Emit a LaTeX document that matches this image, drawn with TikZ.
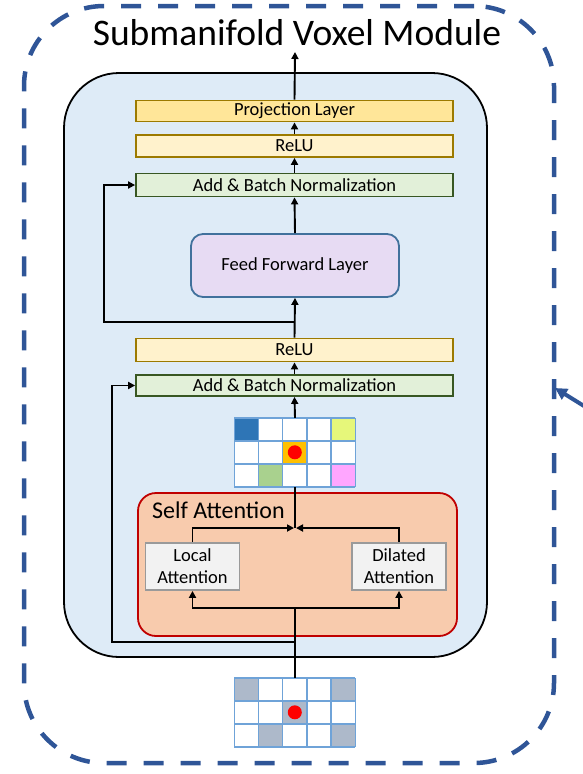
\documentclass[tikz,border=0pt]{standalone}
\usepackage{fontspec}
\setmainfont{Carlito}
\usetikzlibrary{arrows.meta}
\definecolor{dashblue}{HTML}{2F5597}
\definecolor{encfill}{HTML}{DEEBF7}
\definecolor{projfill}{HTML}{FFE699}
\definecolor{relufill}{HTML}{FFF2CC}
\definecolor{goldline}{HTML}{9C7A00}
\definecolor{abnfill}{HTML}{E2F0D9}
\definecolor{abnline}{HTML}{385723}
\definecolor{fflfill}{HTML}{E7DBF3}
\definecolor{fflline}{HTML}{41719C}
\definecolor{safill}{HTML}{F8CBAD}
\definecolor{saline}{HTML}{C00000}
\definecolor{attfill}{HTML}{F2F2F2}
\definecolor{attline}{HTML}{9A9A9A}
\definecolor{gridline}{HTML}{6FA3D8}
\definecolor{cblue}{HTML}{2E75B6}
\definecolor{cyellow}{HTML}{E6F77A}
\definecolor{corange}{HTML}{FFC000}
\definecolor{cgreen}{HTML}{A9D18E}
\definecolor{cpink}{HTML}{FFA6FF}
\definecolor{cgray}{HTML}{ADB9CA}
\begin{document}
\begin{tikzpicture}[x=1pt,y=-1pt,
  boxfont/.style={font=\fontsize{18.5}{21}\selectfont},
  layer/.style={draw, line width=1.8pt, minimum width=317pt, inner sep=0pt, boxfont},
  projbox/.style={layer, fill=projfill, draw=goldline},
  relubox/.style={layer, fill=relufill, draw=goldline},
  abnbox/.style={layer, fill=abnfill, draw=abnline},
  attbox/.style={draw=attline, fill=attfill, line width=1.8pt, minimum width=94pt, minimum height=47pt, inner sep=0pt, align=center, font=\fontsize{18.5}{22}\selectfont},
  gridbox/.style={minimum width=121pt, minimum height=69pt, inner sep=0pt},
  gridlines/.style={gridline, line width=1.5pt},
  conn/.style={line width=1.9pt, black},
  arr/.style={conn, -{Triangle[length=7pt,width=7pt]}},
]
\useasboundingbox (0,0) rectangle (582,774);

% outer dashed module
\node[draw=dashblue, line width=4.5pt, dash pattern=on 20pt off 17pt, rounded corners=80pt,
      minimum width=530pt, minimum height=757pt, inner sep=0pt] (outer) at (289,384.5) {};
\node[anchor=base, font=\fontsize{37.5}{40}\selectfont] (title) at (297,45) {Submanifold Voxel Module};

% encoder block
\node[draw=black, fill=encfill, line width=1.8pt, rounded corners=55pt,
      minimum width=423pt, minimum height=584pt, inner sep=0pt] (enc) at (275.5,365) {};

% layers
\node[projbox, minimum height=21pt] (proj) at (294.5,111) {Projection Layer};
\node[relubox, minimum height=22pt] (relu2) at (294.5,146) {ReLU};
\node[abnbox, minimum height=23pt] (abn2) at (294.5,185) {Add \& Batch Normalization};
\node[draw=fflline, fill=fflfill, line width=1.8pt, rounded corners=12pt,
      minimum width=208pt, minimum height=63pt, inner sep=0pt, boxfont] (ffl) at (295,265.5) {Feed Forward Layer};
\node[relubox, minimum height=23pt] (relu1) at (294.5,350) {ReLU};
\node[abnbox, minimum height=21pt] (abn1) at (294.5,385.5) {Add \& Batch Normalization};

% upper voxel grid
\node[gridbox] (grid1) at (295,452.5) {};
\begin{scope}[shift={(grid1.north west)}, x=24.2pt, y=-23pt]
  \fill[white] (0,0) rectangle (5,3);
  \fill[cblue] (0,0) rectangle (1,1);
  \fill[cyellow] (4,0) rectangle (5,1);
  \fill[corange] (2,1) rectangle (3,2);
  \fill[cgreen] (1,2) rectangle (2,3);
  \fill[cpink] (4,2) rectangle (5,3);
  \foreach \i in {0,...,5} \draw[gridlines] (\i,0) -- (\i,3);
  \foreach \j in {0,...,3} \draw[gridlines] (0,\j) -- (5,\j);
  \fill[red] (2.5,1.5) circle[radius=7pt];
\end{scope}

% self attention
\node[draw=saline, fill=safill, line width=1.8pt, rounded corners=18pt,
      minimum width=319pt, minimum height=143pt, inner sep=0pt] (sa) at (297.5,564.5) {};
\node[anchor=base west, font=\fontsize{24}{26}\selectfont, inner sep=0pt] (satitle) at (152,518) {Self Attention};
\node[attbox] (local) at (192.5,566.5) {Local\\Attention};
\node[attbox] (dil) at (399,566.5) {Dilated\\Attention};

% lower voxel grid
\node[gridbox] (grid0) at (295,712.5) {};
\begin{scope}[shift={(grid0.north west)}, x=24.2pt, y=-23pt]
  \fill[white] (0,0) rectangle (5,3);
  \fill[cgray] (0,0) rectangle (1,1);
  \fill[cgray] (4,0) rectangle (5,1);
  \fill[cgray] (2,1) rectangle (3,2);
  \fill[cgray] (1,2) rectangle (2,3);
  \fill[cgray] (4,2) rectangle (5,3);
  \foreach \i in {0,...,5} \draw[gridlines] (\i,0) -- (\i,3);
  \foreach \j in {0,...,3} \draw[gridlines] (0,\j) -- (5,\j);
  \fill[red] (2.5,1.5) circle[radius=7pt];
\end{scope}

% coordinates
\coordinate (split) at (295,608);
\coordinate (res1) at (295,642);
\coordinate (res1c) at (112,642);
\coordinate (merge) at (295,528);
\coordinate (res2) at (295,322);
\coordinate (res2c) at (104,322);
\coordinate (out) at (295,52);
\coordinate (bstart) at (584,406);
\coordinate (btip) at (555,388);

% connectors
\draw[conn] (grid0.north) -- (split);
\draw[arr] (split) -| (local.south);
\draw[arr] (split) -| (dil.south);
\draw[arr] (res1) -- (res1c) |- (abn1.west);
\draw[arr] (local.north) |- ([xshift=-1pt]merge);
\draw[arr] (dil.north) |- ([xshift=1pt]merge);
\draw[conn] (merge) -- (grid1.south);
\draw[arr] (grid1.north) -- (abn1.south);
\draw[arr] (abn1.north) -- (relu1.south);
\draw[arr] (relu1.north) -- (ffl.south);
\draw[arr] (res2) -- (res2c) |- (abn2.west);
\draw[arr] (ffl.north) -- (abn2.south);
\draw[arr] (abn2.north) -- (relu2.south);
\draw[arr] (relu2.north) -- (proj.south);
\draw[arr] (proj.north) -- (out);
\draw[dashblue, line width=4pt, -{Triangle[length=12pt,width=12pt]}] (bstart) -- (btip);
\end{tikzpicture}
\end{document}
